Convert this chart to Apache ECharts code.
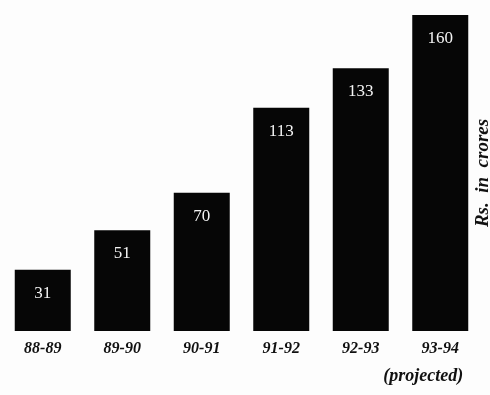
<!DOCTYPE html>
<html>
<head>
<meta charset="utf-8">
<script src="https://cdn.jsdelivr.net/npm/echarts@6/dist/echarts.min.js"></script>
<style>
  html, body { margin: 0; padding: 0; background: #fff; }
  #chart { width: 490px; height: 395px; }
</style>
</head>
<body>
<div id="chart"></div>
<script>
// years and values (Rs. in crores)
var years = ['88-89', '89-90', '90-91', '91-92', '92-93', '93-94'];
var amounts = [31, 51, 70, 113, 133, 160];
var lastNote = '(projected)';

var serif = '"Liberation Serif", "DejaVu Serif", serif';

var myChart = echarts.init(document.getElementById('chart'));
myChart.setOption({
  animation: false,
  backgroundColor: '#fdfdfd',
  grid: { left: 3, right: 10, top: 15, bottom: 64, outerBoundsMode: 'none' },
  xAxis: {
    type: 'category',
    data: years,
    axisLine: { show: false },
    axisTick: { show: false },
    axisLabel: {
      interval: 0,
      hideOverlap: false,
      margin: 10,
      verticalAlign: 'top',
      formatter: function (v, i) {
        return i === years.length - 1 ? '{y|' + v + '}\n{n|' + lastNote + '}' : '{y|' + v + '}';
      },
      rich: {
        y: {
          color: '#111', fontFamily: serif, fontStyle: 'italic', fontWeight: 'bold',
          fontSize: 16, lineHeight: 16
        },
        n: {
          color: '#111', fontFamily: serif, fontStyle: 'italic', fontWeight: 'bold',
          fontSize: 18, lineHeight: 38, padding: [0, 34, 0, 0]
        }
      }
    }
  },
  yAxis: {
    type: 'value',
    position: 'right',
    min: 0,
    max: 160,
    splitLine: { show: false },
    axisLine: { show: false },
    axisTick: { show: false },
    axisLabel: { show: false },
    name: 'Rs.  in  crores',
    nameLocation: 'middle',
    nameRotate: 90,
    nameGap: -6,
    nameTextStyle: {
      color: '#111',
      fontFamily: serif,
      fontStyle: 'italic',
      fontWeight: 'bold',
      fontSize: 19
    }
  },
  series: [{
    type: 'bar',
    data: amounts,
    barWidth: 56,
    itemStyle: { color: '#060606' },
    label: {
      show: true,
      position: 'insideTop',
      distance: 15,
      color: '#f4f4f4',
      fontFamily: serif,
      fontSize: 17
    }
  }]
});
</script>
</body>
</html>
